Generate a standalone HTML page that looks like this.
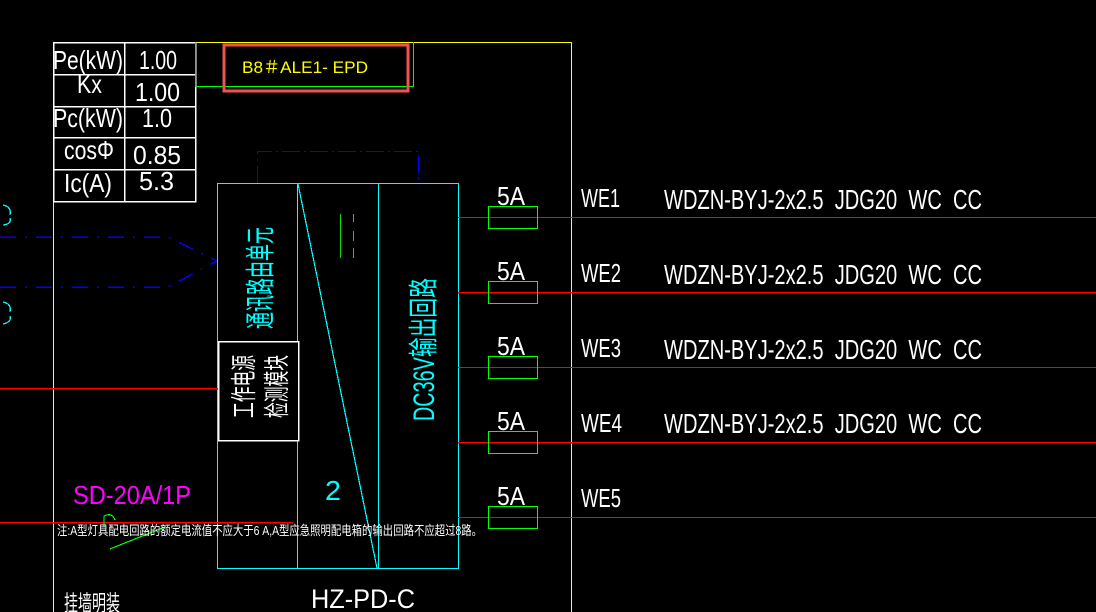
<!DOCTYPE html>
<html><head><meta charset="utf-8"><style>
html,body{margin:0;padding:0;background:#000;}
svg{display:block}
text{font-family:"Liberation Sans","Noto Sans CJK SC",sans-serif;white-space:pre;}
</style></head><body>
<svg width="1096" height="612" viewBox="0 0 1096 612" xmlns="http://www.w3.org/2000/svg" shape-rendering="crispEdges">
<rect width="1096" height="612" fill="#000"/>
<!-- yellow frame -->
<polyline points="53.5,612 53.5,42.5 571.5,42.5 571.5,612" fill="none" stroke="#ffff00" stroke-width="1"/>
<!-- table -->
<g stroke="#fff" stroke-width="1.5" fill="none">
<rect x="53.5" y="42.5" width="142" height="159"/>
<line x1="124.5" y1="42" x2="124.5" y2="201"/>
<line x1="53" y1="74.5" x2="195" y2="74.5"/>
<line x1="53" y1="106.5" x2="195" y2="106.5"/>
<line x1="53" y1="137.5" x2="195" y2="137.5"/>
<line x1="53" y1="169.5" x2="195" y2="169.5"/>
</g>
<g fill="#fff" font-size="26">
<text x="53" y="69" textLength="70" lengthAdjust="spacingAndGlyphs">Pe(kW)</text>
<text x="139" y="69" textLength="38" lengthAdjust="spacingAndGlyphs">1.00</text>
<text x="77" y="93" textLength="25" lengthAdjust="spacingAndGlyphs">Kx</text>
<text x="135" y="101" textLength="45" lengthAdjust="spacingAndGlyphs">1.00</text>
<text x="53" y="127" textLength="70" lengthAdjust="spacingAndGlyphs">Pc(kW)</text>
<text x="142" y="127" textLength="30" lengthAdjust="spacingAndGlyphs">1.0</text>
<text x="64" y="159" textLength="50" lengthAdjust="spacingAndGlyphs">cosΦ</text>
<text x="133" y="164" textLength="48" lengthAdjust="spacingAndGlyphs">0.85</text>
<text x="64" y="192" textLength="48" lengthAdjust="spacingAndGlyphs">Ic(A)</text>
<text x="139" y="190" textLength="35" lengthAdjust="spacingAndGlyphs">5.3</text>
</g>
<!-- green title box -->
<polyline points="195.5,42 195.5,86.5 413.5,86.5 413.5,42" fill="none" stroke="#00ff00" stroke-width="1"/>
<rect x="224" y="45" width="184" height="46" fill="none" stroke="#ef5350" stroke-width="3"/>
<text x="242" y="73" fill="#ffff00" font-size="17" textLength="126" lengthAdjust="spacingAndGlyphs">B8＃ALE1- EPD</text>
<!-- blue dashed box -->
<polyline points="257.5,183 257.5,151.5 418.5,151.5 418.5,183" fill="none" stroke="#0000ff" stroke-width="1" stroke-dasharray="18,4,2,4"/>
<!-- cyan box -->
<g stroke="#00ffff" stroke-width="1.2" fill="none">
<rect x="217.5" y="183.5" width="241" height="385"/>
<line x1="297.5" y1="183" x2="297.5" y2="568"/>
<line x1="378.5" y1="183" x2="378.5" y2="568"/>
<line x1="298" y1="184" x2="377" y2="568"/>
<path d="M3,205 Q12,207 10,215 M3,225 Q12,224 10,218" />
<path d="M3,302 Q12,304 10,312 M3,324 Q12,322 10,316" />
</g>
<rect x="218.5" y="341.5" width="80" height="99" fill="#000" stroke="#fff" stroke-width="1.5"/>
<!-- green marks -->
<g stroke="#00dd00" stroke-width="1.2">
<line x1="340.5" y1="214" x2="340.5" y2="258"/>
<line x1="353.5" y1="214" x2="353.5" y2="222"/>
<line x1="353.5" y1="231" x2="353.5" y2="241"/>
<line x1="353.5" y1="248" x2="353.5" y2="258"/>
</g>
<!-- blue dash-dot input lines -->
<g stroke="#0000ff" stroke-width="1.5" fill="none" stroke-dasharray="16,9,2,9">
<polyline points="0,237 168,237 217,261"/>
<polyline points="0,287 168,287 217,261"/>
</g>
<!-- red lines -->
<g stroke="#ff0000" stroke-width="1.5">
<line x1="0" y1="388.5" x2="218" y2="388.5"/>
<line x1="0" y1="522.5" x2="293" y2="522.5"/>
<line x1="458" y1="217.5" x2="1096" y2="217.5" stroke-width="1"/>
<line x1="458" y1="292.5" x2="1096" y2="292.5"/>
<line x1="458" y1="367.5" x2="1096" y2="367.5" stroke-width="1"/>
<line x1="458" y1="442.5" x2="1096" y2="442.5"/>
<line x1="458" y1="517.5" x2="1096" y2="517.5" stroke-width="1"/>
</g>
<!-- vertical text -->
<text transform="translate(271,329) rotate(-90)" fill="#00ffff" font-size="30" textLength="102" lengthAdjust="spacingAndGlyphs">通讯路由单元</text>
<text transform="translate(434,421) rotate(-90)" fill="#00ffff" font-size="30" textLength="143" lengthAdjust="spacingAndGlyphs">DC36V输出回路</text>
<text transform="translate(253,418) rotate(-90)" fill="#fff" font-size="26" textLength="63" lengthAdjust="spacingAndGlyphs">工作电源</text>
<text transform="translate(286,418) rotate(-90)" fill="#fff" font-size="26" textLength="63" lengthAdjust="spacingAndGlyphs">检测模块</text>
<text x="325" y="500" fill="#00ffff" font-size="28" textLength="16" lengthAdjust="spacingAndGlyphs">2</text>
<!-- breakers -->
<g fill="none" stroke="#00ff00" stroke-width="1.3">
<rect x="488.5" y="206.5" width="49" height="22"/>
<rect x="488.5" y="281.5" width="49" height="22"/>
<rect x="488.5" y="356.5" width="49" height="22"/>
<rect x="488.5" y="431.5" width="49" height="22"/>
<rect x="488.5" y="506.5" width="49" height="22"/>
</g>
<g fill="#fff" font-size="26">
<text x="497" y="205" textLength="28" lengthAdjust="spacingAndGlyphs">5A</text>
<text x="497" y="280" textLength="28" lengthAdjust="spacingAndGlyphs">5A</text>
<text x="497" y="355" textLength="28" lengthAdjust="spacingAndGlyphs">5A</text>
<text x="497" y="430" textLength="28" lengthAdjust="spacingAndGlyphs">5A</text>
<text x="497" y="505" textLength="28" lengthAdjust="spacingAndGlyphs">5A</text>
<text x="581" y="207" textLength="39" lengthAdjust="spacingAndGlyphs">WE1</text>
<text x="581" y="282" textLength="40" lengthAdjust="spacingAndGlyphs">WE2</text>
<text x="581" y="357" textLength="40" lengthAdjust="spacingAndGlyphs">WE3</text>
<text x="581" y="432" textLength="41" lengthAdjust="spacingAndGlyphs">WE4</text>
<text x="581" y="507" textLength="40" lengthAdjust="spacingAndGlyphs">WE5</text>
<text x="664" y="209" font-size="28" textLength="318" lengthAdjust="spacingAndGlyphs">WDZN-BYJ-2x2.5  JDG20  WC  CC</text>
<text x="664" y="284" font-size="28" textLength="318" lengthAdjust="spacingAndGlyphs">WDZN-BYJ-2x2.5  JDG20  WC  CC</text>
<text x="664" y="359" font-size="28" textLength="318" lengthAdjust="spacingAndGlyphs">WDZN-BYJ-2x2.5  JDG20  WC  CC</text>
<text x="664" y="433" font-size="28" textLength="318" lengthAdjust="spacingAndGlyphs">WDZN-BYJ-2x2.5  JDG20  WC  CC</text>
</g>
<!-- bottom labels -->
<text x="73" y="504" fill="#ff00ff" font-size="26" textLength="118" lengthAdjust="spacingAndGlyphs">SD-20A/1P</text>
<g stroke="#00ff00" stroke-width="1.2" fill="none">
<line x1="110" y1="549" x2="165" y2="527"/>
<path d="M104,527 L104,516 Q112,512 115,520"/>
</g>
<text x="57" y="535" fill="#fff" font-size="13" textLength="425" lengthAdjust="spacingAndGlyphs">注:A型灯具配电回路的额定电流值不应大于6 A,A型应急照明配电箱的输出回路不应超过8路。</text>
<text x="311" y="608" fill="#fff" font-size="27" textLength="104" lengthAdjust="spacingAndGlyphs">HZ-PD-C</text>
<text x="64" y="611" fill="#fff" font-size="22" textLength="56" lengthAdjust="spacingAndGlyphs">挂墙明装</text>
</svg>
</body></html>
